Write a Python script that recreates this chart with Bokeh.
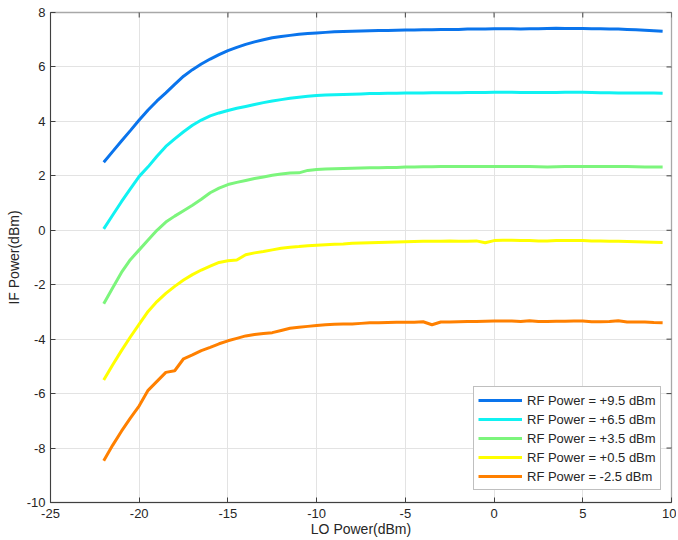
import math
from bokeh.plotting import figure
from bokeh.models import Range1d, Legend, LegendItem, FixedTicker
from bokeh.embed import file_html
from bokeh.resources import INLINE

lo_power = [-22 + 0.5 * i for i in range(64)]

rf_labels = ["RF Power = +9.5 dBm", "RF Power = +6.5 dBm", "RF Power = +3.5 dBm",
             "RF Power = +0.5 dBm", "RF Power = -2.5 dBm"]
colors = ["#0a74ec", "#10f2f2", "#7cf57c", "#ffff00", "#ff8000"]

if_p95 = [2.50, 2.89, 3.28, 3.66, 4.05, 4.42, 4.75, 5.05, 5.36, 5.66,
          5.90, 6.11, 6.29, 6.45, 6.60, 6.72, 6.83, 6.92, 7.00, 7.07,
          7.12, 7.16, 7.20, 7.23, 7.25, 7.27, 7.29, 7.30, 7.31, 7.32,
          7.33, 7.34, 7.34, 7.35, 7.36, 7.36, 7.37, 7.37, 7.38, 7.38,
          7.38, 7.39, 7.39, 7.39, 7.40, 7.40, 7.40, 7.39, 7.40, 7.40,
          7.41, 7.42, 7.41, 7.41, 7.41, 7.40, 7.40, 7.39, 7.39, 7.38,
          7.37, 7.35, 7.33, 7.31]
if_p65 = [0.05, 0.55, 1.05, 1.52, 1.98, 2.33, 2.72, 3.08, 3.36, 3.62,
          3.86, 4.05, 4.20, 4.31, 4.40, 4.48, 4.55, 4.62, 4.69, 4.75,
          4.80, 4.85, 4.89, 4.92, 4.95, 4.97, 4.98, 4.99, 5.00, 5.01,
          5.02, 5.02, 5.03, 5.03, 5.04, 5.04, 5.04, 5.05, 5.05, 5.05,
          5.05, 5.06, 5.06, 5.06, 5.07, 5.07, 5.07, 5.06, 5.06, 5.06,
          5.06, 5.06, 5.07, 5.07, 5.07, 5.06, 5.05, 5.05, 5.04, 5.04,
          5.04, 5.04, 5.04, 5.03]
if_p35 = [-2.70, -2.12, -1.55, -1.08, -0.72, -0.36, 0.00, 0.30, 0.52, 0.72,
          0.92, 1.14, 1.38, 1.55, 1.68, 1.76, 1.83, 1.90, 1.96, 2.02,
          2.07, 2.10, 2.11, 2.20, 2.23, 2.25, 2.26, 2.27, 2.28, 2.29,
          2.30, 2.30, 2.31, 2.31, 2.32, 2.32, 2.33, 2.33, 2.34, 2.34,
          2.34, 2.34, 2.34, 2.34, 2.34, 2.34, 2.34, 2.34, 2.34, 2.33,
          2.32, 2.33, 2.34, 2.34, 2.34, 2.34, 2.34, 2.34, 2.34, 2.34,
          2.33, 2.32, 2.32, 2.32]
if_p05 = [-5.50, -4.95, -4.42, -3.92, -3.45, -2.98, -2.62, -2.32, -2.06, -1.83,
          -1.63, -1.46, -1.32, -1.18, -1.12, -1.09, -0.90, -0.83, -0.78, -0.72,
          -0.66, -0.62, -0.60, -0.57, -0.55, -0.53, -0.51, -0.50, -0.48, -0.47,
          -0.46, -0.45, -0.44, -0.43, -0.42, -0.41, -0.40, -0.40, -0.40, -0.39,
          -0.40, -0.40, -0.39, -0.46, -0.38, -0.37, -0.37, -0.38, -0.38, -0.39,
          -0.39, -0.38, -0.38, -0.38, -0.38, -0.39, -0.39, -0.40, -0.40, -0.41,
          -0.42, -0.43, -0.44, -0.45]
if_m25 = [-8.47, -7.90, -7.38, -6.90, -6.45, -5.88, -5.55, -5.22, -5.16, -4.72,
          -4.58, -4.42, -4.30, -4.17, -4.06, -3.97, -3.88, -3.83, -3.79, -3.76,
          -3.68, -3.60, -3.56, -3.53, -3.50, -3.47, -3.45, -3.44, -3.44, -3.42,
          -3.40, -3.40, -3.39, -3.38, -3.38, -3.38, -3.36, -3.47, -3.37, -3.37,
          -3.36, -3.35, -3.35, -3.34, -3.33, -3.33, -3.33, -3.35, -3.32, -3.35,
          -3.35, -3.34, -3.34, -3.33, -3.33, -3.36, -3.36, -3.35, -3.32, -3.37,
          -3.37, -3.37, -3.39, -3.40]
series = [if_p95, if_p65, if_p35, if_p05, if_m25]

x_ticks = [-25, -20, -15, -10, -5, 0, 5, 10]
y_ticks = [-10, -8, -6, -4, -2, 0, 2, 4, 6, 8]
x_title = "LO Power(dBm)"
y_title = "IF Power(dBm)"

FONT = "Liberation Sans"
AX_DARK = "#404040"
AX_LIGHT = "#a8a8a8"
TXT = "#262626"

x_lo, x_hi = x_ticks[0], x_ticks[-1]
y_lo, y_hi = y_ticks[0], y_ticks[-1]

p = figure(width=676, height=540, output_backend="svg", toolbar_location=None,
           x_range=Range1d(x_lo, x_hi), y_range=Range1d(y_lo, y_hi),
           min_border_left=50, min_border_right=5, min_border_top=12, min_border_bottom=38,
           x_axis_label=x_title, y_axis_label=y_title)
p.outline_line_color = AX_LIGHT
p.outline_line_width = 1.3
p.background_fill_color = "white"
p.border_fill_color = "white"

for ax, ticks in ((p.xaxis[0], x_ticks), (p.yaxis[0], y_ticks)):
    ax.ticker = FixedTicker(ticks=ticks)
    ax.major_label_overrides = {t: str(t) for t in ticks}
    ax.axis_line_color = AX_DARK
    ax.axis_line_width = 1
    ax.major_tick_line_color = AX_DARK
    ax.major_tick_in = 5
    ax.major_tick_out = 0
    ax.minor_tick_line_color = None
    ax.major_label_text_font = FONT
    ax.major_label_text_font_size = "13px"
    ax.major_label_text_color = TXT
    ax.axis_label_text_font = FONT
    ax.axis_label_text_font_size = "14px"
    ax.axis_label_text_font_style = "normal"
    ax.axis_label_text_color = TXT
p.xaxis.major_label_standoff = 6
p.xaxis.axis_label_standoff = 0
p.yaxis.major_label_standoff = 5
p.yaxis.axis_label_standoff = 2

# inward ticks on the top and right edges of the box
p.scatter(x_ticks, [y_hi] * len(x_ticks), marker="dash", size=10, angle=math.pi / 2,
          line_color=AX_DARK, line_width=1)
p.scatter([x_hi] * len(y_ticks), y_ticks, marker="dash", size=10,
          line_color=AX_DARK, line_width=1)

p.xgrid.ticker = FixedTicker(ticks=x_ticks)
p.ygrid.ticker = FixedTicker(ticks=y_ticks)
p.grid.grid_line_color = "#e3e3e3"
p.grid.grid_line_width = 1

items = []
for lab, col, ys in zip(rf_labels, colors, series):
    r = p.line(lo_power, ys, line_color=col, line_width=3)
    items.append(LegendItem(label=lab, renderers=[r]))

legend = Legend(items=items, location=(423, 12),
                label_text_font=FONT, label_text_font_size="13px",
                label_text_color=TXT, glyph_width=44, glyph_height=18,
                label_height=18, spacing=1, padding=4, label_standoff=5,
                border_line_color="#808080", border_line_width=1,
                background_fill_color="white", background_fill_alpha=1)
p.add_layout(legend)

open("out.html", "w").write(file_html(p, INLINE))
